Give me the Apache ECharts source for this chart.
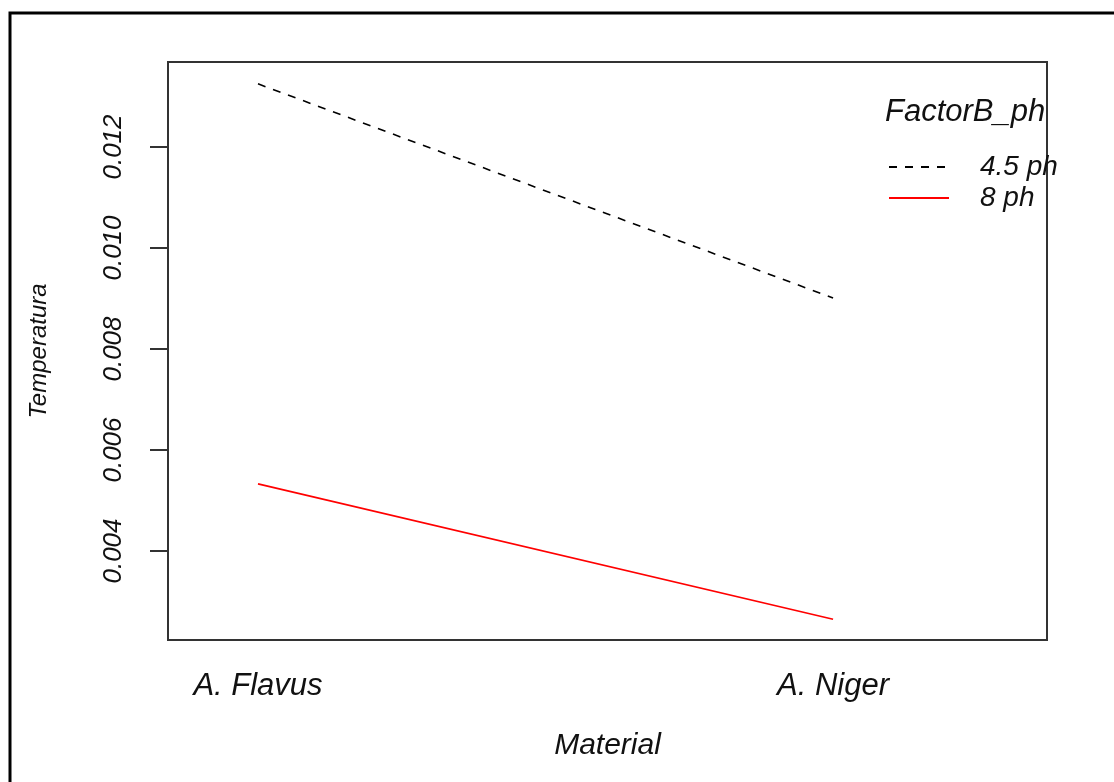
<!DOCTYPE html>
<html>
<head>
<meta charset="utf-8">
<script src="https://cdn.jsdelivr.net/npm/echarts@6/dist/echarts.min.js"></script>
<style>
html,body{margin:0;padding:0;background:#fff;}
#chart{width:1114px;height:782px;}
</style>
</head>
<body>
<div id="chart"></div>
<script>
// ---- data ----
const categories = ['A. Flavus', 'A. Niger'];
const seriesNames = ['4.5 ph', '8 ph'];
const values45 = [0.01325, 0.00901];
const values8 = [0.00533, 0.00265];
const yTicks = [0.004, 0.006, 0.008, 0.010, 0.012];
const legendTitle = 'FactorB_ph';
const xTitle = 'Material';
const yTitle = 'Temperatura';

const FONT = 'Liberation Sans, Arial, sans-serif';
const chart = echarts.init(document.getElementById('chart'), null, {renderer: 'canvas'});

const toPairs = vals => vals.map((v, i) => [i + 1, v]);

chart.setOption({
  animation: false,
  backgroundColor: '#ffffff',
  title: {
    text: legendTitle,
    left: 885,
    top: 97,
    padding: 0,
    textStyle: {fontFamily: FONT, fontStyle: 'italic', fontWeight: 'normal', fontSize: 31, color: '#111'}
  },
  legend: {
    orient: 'vertical',
    left: 888,
    top: 153,
    padding: 0,
    itemWidth: 60,
    itemHeight: 14,
    itemGap: 3,
    data: seriesNames,
    itemStyle: {opacity: 0},
    textStyle: {fontFamily: FONT, fontStyle: 'italic', fontSize: 28, color: '#111', padding: [6, 0, 0, 26]}
  },
  grid: {
    left: 168, top: 62, right: 67, bottom: 142,
    show: true, borderColor: '#333', borderWidth: 2, backgroundColor: 'transparent'
  },
  xAxis: {
    type: 'value',
    min: 0.8435,
    max: 2.372,
    name: xTitle,
    nameLocation: 'middle',
    nameGap: 91,
    nameTextStyle: {fontFamily: FONT, fontStyle: 'italic', fontSize: 30, color: '#111'},
    axisLine: {show: false},
    axisTick: {show: false},
    splitLine: {show: false},
    axisLabel: {
      customValues: [1, 2],
      formatter: v => categories[Math.round(v) - 1],
      margin: 31,
      fontFamily: FONT, fontStyle: 'italic', fontSize: 31, color: '#111'
    }
  },
  yAxis: {
    type: 'value',
    min: 0.002238,
    max: 0.013683,
    name: yTitle,
    nameLocation: 'middle',
    nameGap: 117,
    nameRotate: 90,
    nameTextStyle: {fontFamily: FONT, fontStyle: 'italic', fontSize: 24, color: '#111'},
    axisLine: {show: false},
    splitLine: {show: false},
    axisTick: {
      show: true, customValues: yTicks, length: 18,
      lineStyle: {color: '#333', width: 2}
    },
    axisLabel: {
      customValues: yTicks,
      rotate: 90,
      margin: 41,
      formatter: v => v.toFixed(3),
      fontFamily: FONT, fontStyle: 'italic', fontSize: 26, color: '#111'
    }
  },
  series: [
    {
      name: seriesNames[0],
      type: 'line',
      data: toPairs(values45),
      symbol: 'none',
      lineStyle: {color: '#000', width: 1.6, type: [8, 8]},
      itemStyle: {color: '#000'}
    },
    {
      name: seriesNames[1],
      type: 'line',
      data: toPairs(values8),
      symbol: 'none',
      lineStyle: {color: '#ff0000', width: 1.6, type: 'solid'},
      itemStyle: {color: '#ff0000'}
    }
  ],
  graphic: [
    {
      type: 'polyline',
      shape: {points: [[10, 782], [10, 13], [1114, 13]]},
      style: {stroke: '#000', lineWidth: 3, fill: null},
      silent: true
    }
  ]
});
</script>
</body>
</html>
